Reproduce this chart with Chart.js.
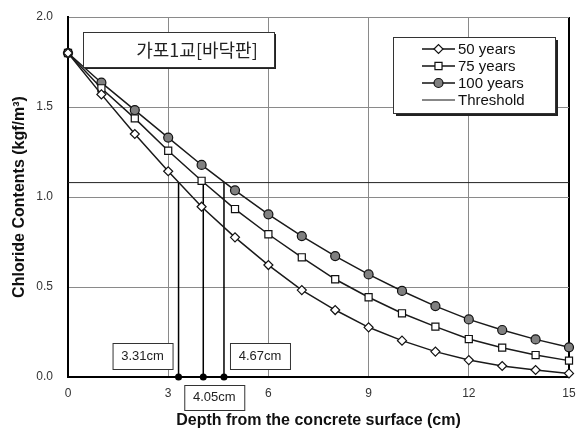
<!DOCTYPE html>
<html><head><meta charset="utf-8">
<script src="https://cdn.jsdelivr.net/npm/chart.js@4/dist/chart.umd.min.js"></script>
<style>html,body{margin:0;padding:0;background:#fff}#wrap{width:576px;height:436px}</style>
</head><body><div id="wrap"><canvas id="c" width="576" height="436"></canvas></div>
<script>
const depth = [0,1,2,3,4,5,6,7,8,9,10,11,12,13,14,15];
const years50 = [1.8,1.57,1.35,1.143,0.946,0.776,0.622,0.483,0.372,0.276,0.202,0.141,0.094,0.061,0.039,0.02];
const years75 = [1.8,1.604,1.437,1.257,1.09,0.933,0.793,0.665,0.543,0.443,0.354,0.28,0.211,0.163,0.122,0.091];
const years100 = [1.8,1.635,1.483,1.33,1.178,1.037,0.904,0.783,0.672,0.57,0.478,0.394,0.32,0.261,0.209,0.165];
const threshold = 1.08;
const crossDepths = [3.31,4.05,4.67];
const crossLabels = ['3.31cm','4.05cm','4.67cm'];
const seriesNames = ['50 years','75 years','100 years','Threshold'];
const xTicks = [0,3,6,9,12,15];
const yTicks = [0,0.5,1.0,1.5,2.0];
const titleText = '가포1교[바닥판]';
const xTitle = 'Depth from the concrete surface (cm)';
const yTitle = 'Chloride Contents (kgf/m³)';

const pts = arr => depth.map((d,i)=>({x:d,y:arr[i]}));
const LINE = '#1a1a1a';
const datasets = [
  {label:seriesNames[0], data:pts(years50), borderColor:LINE, borderWidth:1.5, pointStyle:'rectRot', pointRadius:4.5, pointBackgroundColor:'#fff', pointBorderColor:'#111', pointBorderWidth:1.2, order:0, clip:false},
  {label:seriesNames[1], data:pts(years75), borderColor:LINE, borderWidth:1.5, pointStyle:'rect', pointRadius:5, pointBackgroundColor:'#fff', pointBorderColor:'#111', pointBorderWidth:1.2, order:0, clip:false},
  {label:seriesNames[2], data:pts(years100), borderColor:LINE, borderWidth:1.5, pointStyle:'circle', pointRadius:4.5, pointBackgroundColor:'#808080', pointBorderColor:'#111', pointBorderWidth:1.2, order:0, clip:false},
  {label:seriesNames[3], data:[{x:depth[0],y:threshold},{x:depth[depth.length-1],y:threshold}], borderColor:'#222', borderWidth:1, pointRadius:0, order:2}
];
crossDepths.forEach(d=>{
  datasets.push({label:'cross', data:[{x:d,y:threshold},{x:d,y:0}], borderColor:'#000', borderWidth:1.5, pointRadius:[0,3.5], pointBackgroundColor:'#000', pointBorderColor:'#000', pointBorderWidth:0, order:1, clip:false});
});

function box(ctx,x,y,w,h,shadow){
  if(shadow){ctx.fillStyle='#222';ctx.fillRect(x+shadow,y+shadow,w,h);}
  ctx.fillStyle='#fff';ctx.fillRect(x,y,w,h);
  ctx.strokeStyle='#333';ctx.lineWidth=1;ctx.strokeRect(x+0.5,y+0.5,w,h);
}

const annot = {
  id:'annot',
  afterDatasetsDraw(chart){
    const ctx = chart.ctx, xs = chart.scales.x, ys = chart.scales.y, ca = chart.chartArea;
    ctx.save();
    // title box
    box(ctx, ca.left+15, ca.top+15, 191, 35, 2);
    ctx.fillStyle='#222';ctx.font='18px "Noto Sans CJK KR"';ctx.textAlign='center';ctx.textBaseline='middle';
    ctx.fillText(titleText, ca.left+129, ca.top+33);
    // crossing labels
    ctx.font='13px "Liberation Sans", Arial';ctx.textBaseline='middle';
    const y0 = ys.getPixelForValue(0);
    const bw=60,bh=26;
    let px = xs.getPixelForValue(crossDepths[0]);
    box(ctx, px-6-bw, y0-34, bw, bh, 0); ctx.fillStyle='#222'; ctx.fillText(crossLabels[0], px-6-bw/2, y0-21);
    px = xs.getPixelForValue(crossDepths[2]);
    box(ctx, px+6, y0-34, bw, bh, 0); ctx.fillStyle='#222'; ctx.fillText(crossLabels[2], px+6+bw/2, y0-21);
    px = xs.getPixelForValue(crossDepths[1]);
    box(ctx, px-19, y0+8, bw, bh-1, 0); ctx.fillStyle='#222'; ctx.fillText(crossLabels[1], px-19+bw/2, y0+20.5);
    // legend
    const lx = ca.right-14-162, ly = ca.top+20;
    box(ctx, lx, ly, 162, 76, 3);
    ctx.font='15px "Liberation Sans", Arial';ctx.textAlign='left';
    for(let i=0;i<4;i++){
      const ds = chart.data.datasets[i];
      const yy = ly+12+i*17;
      ctx.strokeStyle='#111';ctx.lineWidth= i<3?1.5:1;
      ctx.beginPath();ctx.moveTo(lx+29,yy);ctx.lineTo(lx+62,yy);ctx.stroke();
      if(i<3){
        ctx.fillStyle=ds.pointBackgroundColor;ctx.strokeStyle='#111';ctx.lineWidth=1.2;
        Chart.helpers.drawPoint(ctx,{pointStyle:ds.pointStyle,radius:ds.pointRadius,rotation:0,borderWidth:1.2},lx+45.5,yy);
      }
      ctx.fillStyle='#111';ctx.fillText(ds.label, lx+65, yy+1);
    }
    ctx.restore();
  }
};

new Chart(document.getElementById('c'), {
  type:'line',
  data:{datasets},
  options:{
    responsive:false, animation:false, devicePixelRatio:1,
    layout:{padding:{top:17,right:7,left:0,bottom:0}},
    elements:{line:{tension:0}},
    plugins:{legend:{display:false},tooltip:{enabled:false}},
    scales:{
      x:{type:'linear',min:0,max:15,
        afterBuildTicks:s=>{s.ticks=xTicks.map(v=>({value:v}));},
        afterFit:s=>{s.height=59;s.paddingLeft=0;s.paddingRight=0;},
        ticks:{padding:9,color:'#333',font:{family:'"Liberation Sans", Arial',size:12},maxRotation:0,callback:v=>String(v)},
        grid:{drawTicks:false,color:c=>c.tick&&c.tick.value===15?'#000':'#8a8a8a',lineWidth:c=>c.tick&&c.tick.value===15?2:1},
        border:{color:'#000',width:2},
        title:{display:true,text:xTitle,color:'#111',font:{family:'"Liberation Sans", Arial',size:16,weight:'bold'},padding:{top:0,bottom:6}}
      },
      y:{min:0,max:2,
        afterBuildTicks:s=>{s.ticks=yTicks.map(v=>({value:v}));},
        afterFit:s=>{s.width=68;s.paddingTop=0;s.paddingBottom=0;},
        ticks:{padding:15,color:'#333',font:{family:'"Liberation Sans", Arial',size:12},callback:v=>Number(v).toFixed(1)},
        grid:{drawTicks:false,color:'#8a8a8a',lineWidth:1},
        border:{color:'#000',width:2},
        title:{display:true,text:yTitle,color:'#111',font:{family:'"Liberation Sans", Arial',size:16,weight:'bold'},padding:{top:10,bottom:0}}
      }
    }
  },
  plugins:[annot]
});
</script></body></html>
